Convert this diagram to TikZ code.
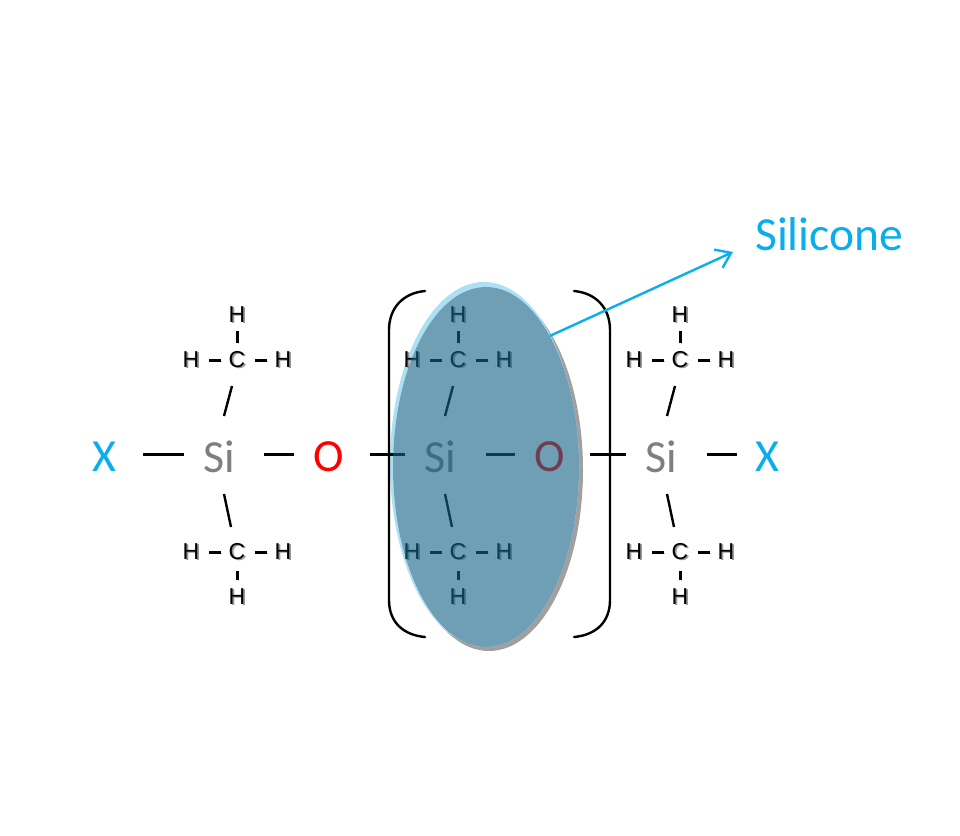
\documentclass[tikz,border=0pt]{standalone}
\usepackage{fontspec}
\setmainfont{Carlito}
\newfontfamily\arialf{Liberation Sans}
\usetikzlibrary{arrows.meta,shapes.geometric}
\definecolor{xblue}{HTML}{0AAEEC}
\definecolor{sigrey}{HTML}{7F7F7F}
\definecolor{ovalfill}{rgb}{0.08,0.39,0.52}
\definecolor{ovalpale}{HTML}{ABE0F5}
\definecolor{ovalgrey}{HTML}{A0A0A0}
\newcommand{\shd}[1]{\makebox[0pt][l]{\kern1.6pt\raisebox{-1.6pt}{\textcolor{black!40}{#1}}}#1}
\tikzset{
  x=1pt,y=-1pt,
  atom/.style={inner sep=0pt,font=\fontsize{46}{46}\selectfont,anchor=center},
  sub/.style={inner sep=0pt,font=\arialf\fontsize{23}{23}\selectfont,anchor=center},
  bondh/.style={line width=2.2pt,black},
  bondv/.style={line width=3pt,black,preaction={draw=black!25,transform canvas={shift={(1pt,-1pt)}}}},
  oval/.style={ellipse,inner sep=0pt,draw=none},
  brk/.style={line width=2.4pt,black,line cap=round},
}
\begin{document}
\begin{tikzpicture}
\useasboundingbox (0,0) rectangle (960,835);
\fill[white] (0,0) rectangle (960,835);
% ellipse under-layers
\node[oval,fill=ovalgrey,minimum width=188pt,minimum height=362pt] (ovalshadow) at (489,470) {};
\node[oval,fill=ovalpale,minimum width=188pt,minimum height=364pt] (ovaledge) at (484,464) {};
\node[oval,fill=white,minimum width=186pt,minimum height=360pt] (ovalbase) at (486,467) {};
% brackets
\draw[brk] (425,291) .. controls (403,293) and (389,308) .. (389,330) -- (389,600) .. controls (389,622) and (403,635) .. (425,637);
\draw[brk] (574,291) .. controls (596,293) and (610,308) .. (610,330) -- (610,600) .. controls (610,622) and (596,635) .. (574,637);
% main chain
\node[atom,text=xblue] (x1) at (104,457) {X};
\node[atom,text=sigrey] (si1) at (219,457) {Si};
\node[atom,text=red] (o1) at (329,457) {O};
\node[atom,text=sigrey] (si2) at (440,457) {Si};
\node[atom,text=red] (o2) at (550,457) {O};
\node[atom,text=sigrey] (si3) at (661,457) {Si};
\node[atom,text=xblue] (x2) at (767,457) {X};
\foreach \a/\b/\p/\q in {x1/si1/39/35,si1/o1/45/35,o1/si2/41/35,si2/o2/46/35,o2/si3/40/35,si3/x2/46/30}
  \draw[bondh,shorten <=\p pt,shorten >=\q pt] (\a.center |- 0,454.5) -- (\b.center |- 0,454.5);
% methyl groups
\foreach \n/\x in {1/237,2/458,3/680}{
  \node[sub] (cu\n) at (\x,360) {\shd{C}};
  \node[sub] (hut\n) at (\x,315) {\shd{H}};
  \node[sub] (hul\n) at (\x-46,360) {\shd{H}};
  \node[sub] (hur\n) at (\x+46,360) {\shd{H}};
  \node[sub] (cd\n) at (\x,552) {\shd{C}};
  \node[sub] (hdb\n) at (\x,597) {\shd{H}};
  \node[sub] (hdl\n) at (\x-46,552) {\shd{H}};
  \node[sub] (hdr\n) at (\x+46,552) {\shd{H}};
  \draw[bondv] (cu\n) ++(0,-29) -- ++(0,12);
  \draw[bondv] (cu\n) ++(-28,0) -- ++(12,0);
  \draw[bondv] (cu\n) ++(18,0) -- ++(12,0);
  \draw[bondv] (cd\n) ++(-28,0) -- ++(12,0);
  \draw[bondv] (cd\n) ++(18,0) -- ++(12,0);
  \draw[bondv] (cd\n) ++(0,19) -- ++(0,9);
  \draw[line width=2.4pt,black] (cu\n) ++(-5,26) -- ++(-8,30);
  \draw[line width=2.4pt,black] (cd\n) ++(-13,-58) -- ++(7,33);
}
% translucent oval
\node[oval,fill=ovalfill,fill opacity=0.61,minimum width=186pt,minimum height=360pt] (oval) at (486,467) {};
% label + arrow
\node[inner sep=0pt,text=xblue,font=\fontsize{47.5}{47.5}\selectfont,anchor=base west] (silicone) at (755,250) {Silicone};
\coordinate (tip) at (733,252);
\draw[xblue,line width=2.4pt,-{Straight Barb[length=14pt,width=20pt]}] (oval.64) -- (tip);
\end{tikzpicture}
\end{document}
